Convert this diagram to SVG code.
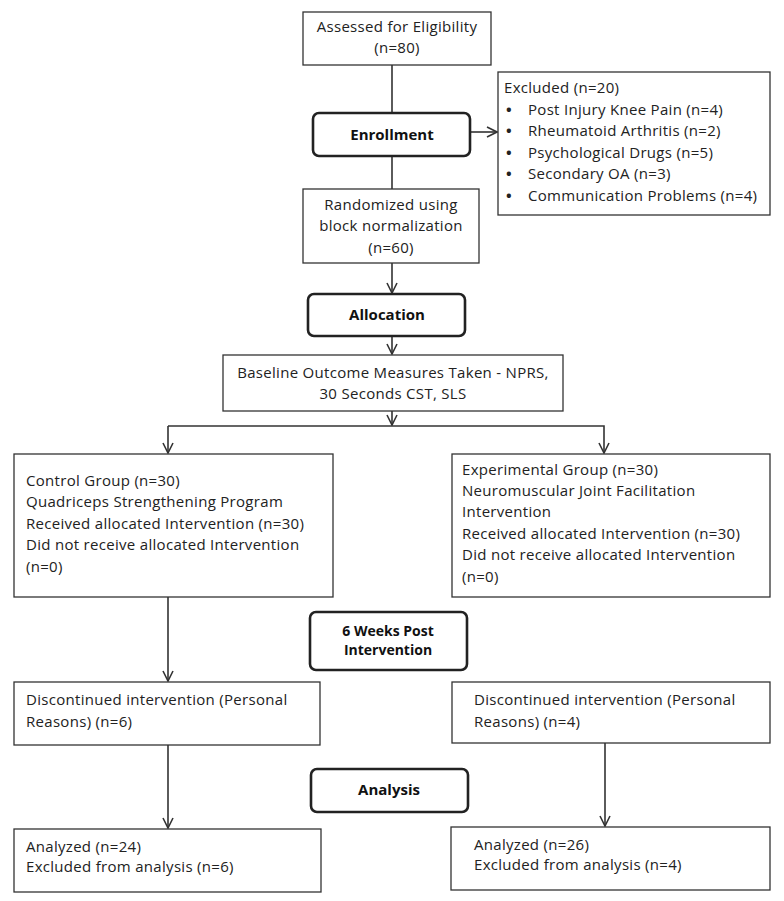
<svg xmlns="http://www.w3.org/2000/svg" width="784" height="901" viewBox="0 0 784 901">
<defs>
<marker id="arr" viewBox="0 0 12 12" refX="11" refY="6" markerWidth="12" markerHeight="12" markerUnits="userSpaceOnUse" orient="auto">
<path d="M1,1 L11,6 L1,11" fill="none" stroke="#333" stroke-width="1.6"/>
</marker>
<style>
.box{fill:#fff;stroke:#333;stroke-width:1.3}
.stage{fill:#fff;stroke:#222;stroke-width:2.6}
.t{font-family:"Open Sans","Liberation Sans",sans-serif;font-size:15px;letter-spacing:0.3px;fill:#222}
.c{text-anchor:middle}
.b{font-weight:bold;fill:#111;letter-spacing:0}
.s{font-size:14px}
.bu{font-weight:bold;letter-spacing:0}
.ln{fill:none;stroke:#333;stroke-width:1.6}
.ar{fill:none;stroke:#333;stroke-width:1.6;marker-end:url(#arr)}
</style>
</defs>
<rect width="784" height="901" fill="#fff"/>
<g id="connectors">
<path class="ln" d="M392,65 V113"/>
<path class="ln" d="M392,156 V189"/>
<path class="ar" d="M470,132 H497"/>
<path class="ar" d="M392,263 V293"/>
<path class="ar" d="M392,336 V354"/>
<path class="ar" d="M392,411 V425"/>
<path class="ar" d="M168,426 H604 V453"/>
<path class="ar" d="M168,426 V453"/>
<path class="ar" d="M168,597 V681"/>
<path class="ar" d="M168,745 V828"/>
<path class="ar" d="M605,743 V826"/>
</g>
<g id="assessed">
<rect class="box" x="303" y="12" width="188" height="53"/>
<text class="t c" x="397" y="32">Assessed for Eligibility</text>
<text class="t c" x="397" y="53">(n=80)</text>
</g>
<g id="enrollment">
<rect class="stage" x="313" y="113" width="157" height="43" rx="6"/>
<text class="t c b" x="392" y="140">Enrollment</text>
</g>
<g id="excluded">
<rect class="box" x="498" y="72" width="272" height="143"/>
<text class="t" x="504" y="93">Excluded (n=20)</text>
<text class="t bu" x="506" y="114.5">•</text><text class="t" x="528" y="114.5">Post Injury Knee Pain (n=4)</text>
<text class="t bu" x="506" y="136">•</text><text class="t" x="528" y="136">Rheumatoid Arthritis (n=2)</text>
<text class="t bu" x="506" y="157.5">•</text><text class="t" x="528" y="157.5">Psychological Drugs (n=5)</text>
<text class="t bu" x="506" y="179">•</text><text class="t" x="528" y="179">Secondary OA (n=3)</text>
<text class="t bu" x="506" y="200.5">•</text><text class="t" x="528" y="200.5">Communication Problems (n=4)</text>
</g>
<g id="randomized">
<rect class="box" x="303" y="189" width="176" height="74"/>
<text class="t c" x="391" y="210">Randomized using</text>
<text class="t c" x="391" y="231">block normalization</text>
<text class="t c" x="391" y="253">(n=60)</text>
</g>
<g id="allocation">
<rect class="stage" x="308" y="294" width="157" height="42" rx="6"/>
<text class="t c b" x="387" y="320">Allocation</text>
</g>
<g id="baseline">
<rect class="box" x="223" y="355" width="340" height="56"/>
<text class="t c" x="393" y="378">Baseline Outcome Measures Taken - NPRS,</text>
<text class="t c" x="393" y="399">30 Seconds CST, SLS</text>
</g>
<g id="control">
<rect class="box" x="14" y="454" width="319" height="143"/>
<text class="t" x="26" y="486">Control Group (n=30)</text>
<text class="t" x="26" y="507">Quadriceps Strengthening Program</text>
<text class="t" x="26" y="528.5">Received allocated Intervention (n=30)</text>
<text class="t" x="26" y="550">Did not receive allocated Intervention</text>
<text class="t" x="26" y="571.5">(n=0)</text>
</g>
<g id="experimental">
<rect class="box" x="452" y="454" width="318" height="143"/>
<text class="t" x="462" y="475">Experimental Group (n=30)</text>
<text class="t" x="462" y="496">Neuromuscular Joint Facilitation</text>
<text class="t" x="462" y="517">Intervention</text>
<text class="t" x="462" y="538.5">Received allocated Intervention (n=30)</text>
<text class="t" x="462" y="560">Did not receive allocated Intervention</text>
<text class="t" x="462" y="581.5">(n=0)</text>
</g>
<g id="six-weeks">
<rect class="stage" x="310" y="612" width="157" height="58" rx="6"/>
<text class="t c b s" x="388" y="636">6 Weeks Post</text>
<text class="t c b s" x="388" y="655">Intervention</text>
</g>
<g id="discontinued-control">
<rect class="box" x="14" y="682" width="306" height="63"/>
<text class="t" x="26" y="705">Discontinued intervention (Personal</text>
<text class="t" x="26" y="727">Reasons) (n=6)</text>
</g>
<g id="discontinued-experimental">
<rect class="box" x="452" y="682" width="318" height="61"/>
<text class="t" x="474" y="705">Discontinued intervention (Personal</text>
<text class="t" x="474" y="727">Reasons) (n=4)</text>
</g>
<g id="analysis">
<rect class="stage" x="311" y="769" width="157" height="43" rx="6"/>
<text class="t c b" x="389" y="795">Analysis</text>
</g>
<g id="analyzed-control">
<rect class="box" x="14" y="829" width="307" height="63"/>
<text class="t" x="26" y="852">Analyzed (n=24)</text>
<text class="t" x="26" y="872">Excluded from analysis (n=6)</text>
</g>
<g id="analyzed-experimental">
<rect class="box" x="451" y="827" width="319" height="63"/>
<text class="t" x="474" y="850">Analyzed (n=26)</text>
<text class="t" x="474" y="870">Excluded from analysis (n=4)</text>
</g>
</svg>
